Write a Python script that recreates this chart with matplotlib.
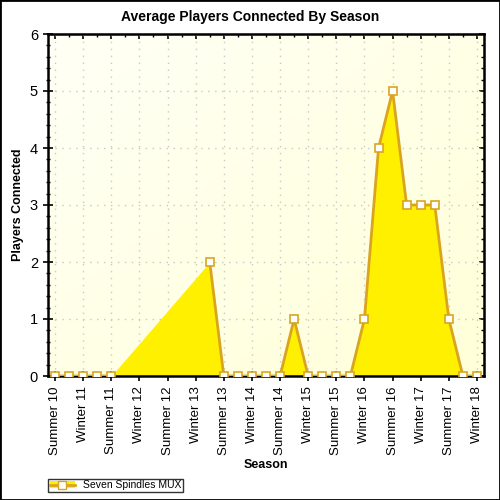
import numpy as np
import matplotlib.pyplot as plt
from matplotlib.patches import Patch, Rectangle
from matplotlib.lines import Line2D
from matplotlib.colors import LinearSegmentedColormap

plt.rcParams['font.family'] = ['Liberation Sans', 'DejaVu Sans']

# ============================
# Datos
# ============================
season_labels = ["Summer 10", "Winter 11", "Summer 11", "Winter 12", "Summer 12",
                 "Winter 13", "Summer 13", "Winter 14", "Summer 14", "Winter 15",
                 "Summer 15", "Winter 16", "Summer 16", "Winter 17", "Summer 17",
                 "Winter 18"]
# one point every half season, None = no data
players = [0, 0, 0, 0, 0, None, None, None, None, None, None,
           2, 0, 0, 0, 0, 0, 1, 0, 0, 0, 0,
           1, 4, 5, 3, 3, 3, 1, 0, 0]
series_name = "Seven Spindles MUX"

x = np.arange(len(players))
y = np.array([np.nan if v is None else v for v in players], dtype=float)
ok = ~np.isnan(y)

fill_col = '#FFF000'
line_col = '#D9A521'

# ============================
# Figura
# ============================
fig = plt.figure(figsize=(5, 5), dpi=100)
ax = fig.add_axes([0.096, 0.248, 0.872, 0.684])

# fondo degradado
grad = np.add.outer(np.linspace(0, 1, 100), np.linspace(0, 1, 100)) / 2
bg = LinearSegmentedColormap.from_list('bg', ['#FFFFF6', '#FFFFD8'])
ax.imshow(grad, cmap=bg, extent=(-0.5, 30.5, 0, 6), aspect='auto', zorder=0)

ax.fill_between(x[ok], y[ok], 0, color=fill_col, lw=0, zorder=2)
ax.plot(x, y, color=line_col, lw=2, zorder=3)
ax.plot(x[ok], y[ok], ls='none', marker='s', ms=6, mfc='white',
        mec=line_col, mew=1.2, zorder=4)

ax.set_xlim(-0.5, 30.5)
ax.set_ylim(0, 6)
ax.set_xticks(np.arange(0, len(players), 2))
ax.set_xticklabels(season_labels, rotation=90, fontsize=9.5)
ax.set_xticks(x, minor=True)
ax.set_yticks(np.arange(0, 7))
ax.set_yticks(np.arange(0, 6.01, 0.2), minor=True)
ax.tick_params(axis='y', labelsize=10.5)
ax.tick_params(which='major', direction='inout', length=7.5, width=1.2)
ax.tick_params(axis='y', which='minor', direction='inout', length=3, width=1)
ax.tick_params(axis='x', which='minor', direction='in', length=2.5, width=1)
ax.grid(True, which='major', color='#C8C8C8', ls=(0, (1, 4)), lw=1)
for s in ax.spines.values():
    s.set_linewidth(1.8)

# ejes de arriba y derecha, ticks hacia dentro
top = ax.secondary_xaxis('top')
top.set_xticks(np.arange(0, len(players), 2))
top.set_xticks(x, minor=True)
top.tick_params(which='major', direction='in', length=3.5, width=1.2, labeltop=False)
top.tick_params(which='minor', direction='in', length=2.5, width=1)
right = ax.secondary_yaxis('right')
right.set_yticks(np.arange(0, 7))
right.set_yticks(np.arange(0, 6.01, 0.2), minor=True)
right.tick_params(which='major', direction='in', length=3.5, width=1.2, labelright=False)
right.tick_params(which='minor', direction='in', length=2.5, width=1)

fig.text(0.5, 0.966, "Average Players Connected By Season", fontsize=10,
         fontweight='bold', ha='center', va='center')
ax.set_xlabel("Season", fontsize=9, fontweight='bold', labelpad=3)
ax.set_ylabel("Players Connected", fontsize=9, fontweight='bold', labelpad=4)

# leyenda
handle = (Patch(facecolor=fill_col, edgecolor='none'),
          Line2D([], [], color=line_col, lw=2, marker='s', ms=5.5,
                 mfc='white', mec=line_col))
leg = fig.legend([handle], [series_name], loc='lower left',
                 bbox_to_anchor=(0.096, 0.016), borderaxespad=0, fontsize=7.5,
                 frameon=True, fancybox=False, edgecolor='black',
                 handlelength=2.4, handleheight=0.6, borderpad=0.15,
                 handletextpad=0.8)
leg.get_frame().set_linewidth(1)

fig.patches.append(Rectangle((0, 0), 1, 1, transform=fig.transFigure,
                             fill=False, ec='black', lw=2))

plt.savefig("out.png", dpi=100)
